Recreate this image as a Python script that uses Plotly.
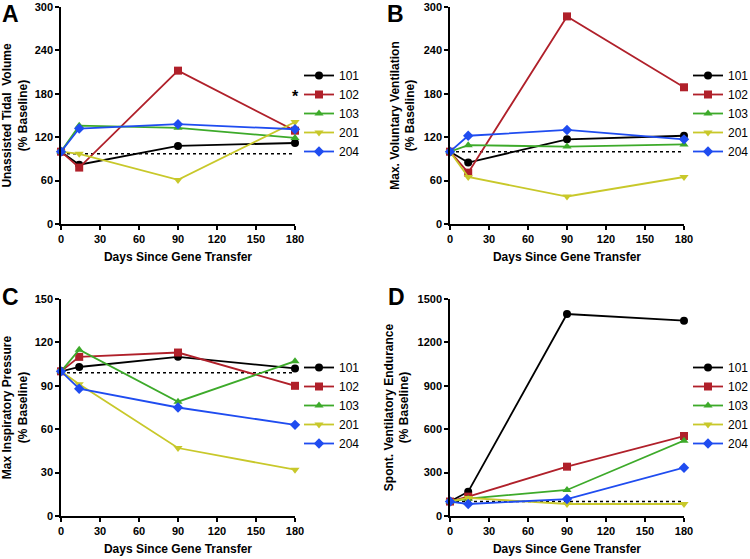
import plotly.graph_objects as go

days = [0, 14, 90, 180]
subjects = ["101", "102", "103", "201", "204"]

# panel A: unassisted tidal volume (% baseline)
tidal = {
    "101": [100, 82, 108, 112],
    "102": [100, 78, 212, 129],
    "103": [100, 136, 133, 119],
    "201": [100, 97, 61, 141],
    "204": [100, 132, 138, 131],
}
# panel B: max voluntary ventilation
mvv = {
    "101": [100, 85, 117, 122],
    "102": [100, 71, 287, 189],
    "103": [100, 109, 107, 110],
    "201": [100, 65, 38, 65],
    "204": [100, 122, 130, 117],
}
# panel C: max inspiratory pressure
mip = {
    "101": [100, 103, 110, 102],
    "102": [100, 110, 113, 90],
    "103": [100, 115, 79, 107],
    "201": [100, 91, 47, 32],
    "204": [100, 88, 75, 63],
}
# panel D: spontaneous ventilatory endurance
sve = {
    "101": [100, 168, 1396, 1350],
    "102": [100, 134, 341, 553],
    "103": [100, 120, 180, 521],
    "201": [100, 125, 83, 83],
    "204": [100, 83, 117, 334],
}
baselines = [97, 100, 99, 100]

y_titles = [
    "Unassisted Tidal  Volume<br>(% Baseline)",
    "Max. Voluntary Ventilation<br>(% Baseline)",
    "Max Inspiratory Pressure<br>(% Baseline)",
    "Spont. Ventilatory Endurance<br>(% Baseline)",
]
y_ranges = [300, 300, 150, 1500]
y_dticks = [60, 60, 30, 300]
letters = ["A", "B", "C", "D"]

colors = {"101": "#000000", "102": "#B0202A", "103": "#3DAA2A",
          "201": "#C8C82A", "204": "#1F4CF0"}
symbols = {"101": "circle", "102": "square", "103": "triangle-up",
           "201": "triangle-down", "204": "diamond"}

W, H = 750, 559
# plot areas in pixels: (left, right, top, bottom)
boxes = [(61, 295, 7, 224), (450, 684, 7, 224),
         (61, 295, 299, 516), (450, 684, 299, 516)]
letter_pos = [(1, 0), (386, 0), (1, 283), (387, 283)]

fig = go.Figure()
FONT = "Liberation Sans, Arial, sans-serif"

for i, data in enumerate([tidal, mvv, mip, sve]):
    n = "" if i == 0 else str(i + 1)
    xa, ya = "x" + n, "y" + n
    lg = "legend" if i == 0 else "legend" + str(i + 1)
    fig.add_trace(go.Scatter(
        x=[0, 180], y=[baselines[i]] * 2, mode="lines",
        line=dict(color="black", width=1.5, dash="dot"),
        showlegend=False, xaxis=xa, yaxis=ya, legend=lg, hoverinfo="skip"))
    for s in subjects:
        fig.add_trace(go.Scatter(
            x=days, y=data[s], mode="lines+markers", name=s,
            line=dict(color=colors[s], width=1.8),
            marker=dict(symbol=symbols[s], size=8, color=colors[s]),
            cliponaxis=False, xaxis=xa, yaxis=ya, legend=lg))

    l, r, t, b = boxes[i]
    xd = [l / W, r / W]
    yd = [1 - b / H, 1 - t / H]
    axis_common = dict(
        showline=True, linecolor="black", linewidth=1.5, ticks="outside",
        ticklen=4, tickwidth=1.5, tickcolor="black", showgrid=False,
        zeroline=False, automargin=False,
        tickfont=dict(family=FONT, size=11, color="black", weight="bold"))
    fig.layout["xaxis" + n] = dict(
        domain=xd, range=[0, 180], tickvals=[0, 30, 60, 90, 120, 150, 180],
        anchor=ya,
        title=dict(text="Days Since Gene Transfer", standoff=9,
                   font=dict(family=FONT, size=12, color="black", weight="bold")),
        **axis_common)
    fig.layout["yaxis" + n] = dict(
        domain=yd, range=[0, y_ranges[i]], dtick=y_dticks[i], anchor=xa,
        title=dict(text=y_titles[i], standoff=6,
                   font=dict(family=FONT, size=12, color="black", weight="bold")),
        **axis_common)
    fig.layout[lg] = dict(
        x=(r + 4) / W, y=1 - (t + 54) / H, xanchor="left", yanchor="top",
        bgcolor="rgba(0,0,0,0)", itemwidth=30, tracegroupgap=0,
        font=dict(family=FONT, size=12, color="black"))
    lx, ly = letter_pos[i]
    fig.add_annotation(
        text=letters[i], xref="paper", yref="paper",
        x=lx / W, y=1 - ly / H, xanchor="left", yanchor="top", showarrow=False,
        borderpad=0,
        font=dict(family=FONT, size=23, color="black", weight="bold"))

fig.add_annotation(text="*", x=180, y=176, xref="x", yref="y",
                   showarrow=False,
                   font=dict(family=FONT, size=16, color="black", weight="bold"))

fig.update_layout(
    width=W, height=H, margin=dict(l=0, r=0, t=0, b=0, autoexpand=False),
    paper_bgcolor="white", plot_bgcolor="white",
    font=dict(family=FONT, color="black"))

# the page body has a default 8px margin; drop it so the figure fills the window
fig.write_html("out.html", config={"displayModeBar": False},
               post_script="document.body.style.margin='0';")
